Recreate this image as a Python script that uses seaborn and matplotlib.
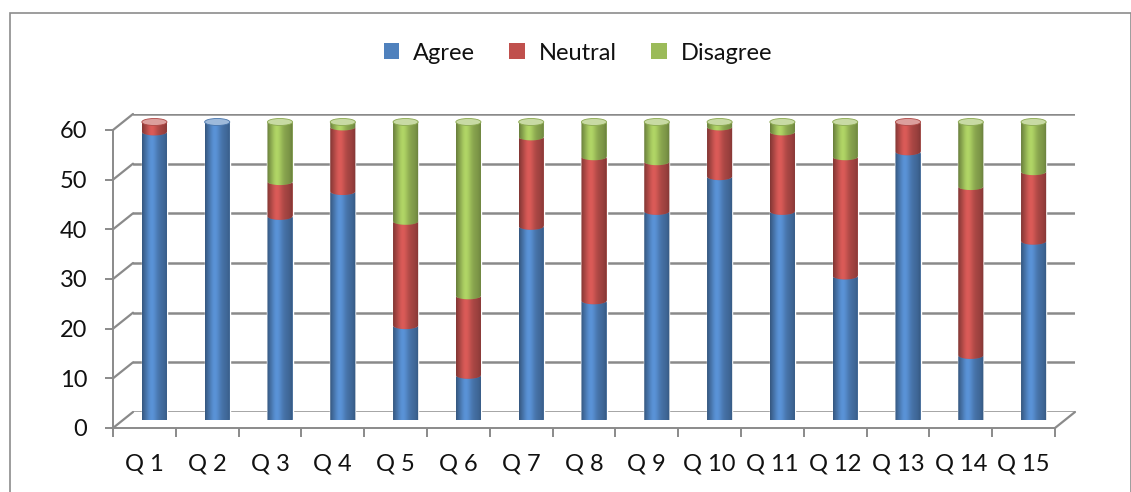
import numpy as np
import pandas as pd
import matplotlib
matplotlib.use("Agg")
import matplotlib.pyplot as plt
import seaborn as sns
from matplotlib.path import Path
from matplotlib.patches import PathPatch, Ellipse, Rectangle
from matplotlib.lines import Line2D
from matplotlib.colors import to_rgb

# ---------------- data ----------------
categories = ["Q 1", "Q 2", "Q 3", "Q 4", "Q 5", "Q 6", "Q 7", "Q 8",
              "Q 9", "Q 10", "Q 11", "Q 12", "Q 13", "Q 14", "Q 15"]
agree = [58, 60, 41, 46, 19, 9, 39, 24, 42, 49, 42, 29, 54, 13, 36]
neutral = [2, 0, 7, 13, 21, 16, 18, 29, 10, 10, 16, 24, 6, 34, 14]
disagree = [0, 0, 12, 1, 20, 35, 3, 7, 8, 1, 2, 7, 0, 13, 10]
series_names = ["Agree", "Neutral", "Disagree"]
y_ticks = [0, 10, 20, 30, 40, 50, 60]
colors = ["#4F81BD", "#C0504D", "#9BBB59"]

df = pd.DataFrame({"Question": categories, "Agree": agree,
                   "Neutral": neutral, "Disagree": disagree})

# ---------------- style ----------------
sns.set_theme(style="white")
plt.rcParams['font.family'] = ['Lato', 'DejaVu Sans']
FS = 17
GRID = "#8a8a8a"
TXT = "#111111"

W, H = 1131, 492
fig = plt.figure(figsize=(W / 100, H / 100), dpi=100)
fig.patch.set_facecolor("white")


def rect(l, t, r, b):
    return [l / W, 1 - b / H, (r - l) / W, (b - t) / H]


FL, FT, FR, FB = 113, 130, 1055, 428      # front plane
BDX, BDY = 20, 16                          # back wall offset
MDX, MDY = 10, 8                           # bar plane offset

ax_back = fig.add_axes(rect(FL + BDX, FT - BDY, FR + BDX, FB - BDY))
ax_front = fig.add_axes(rect(FL, FT, FR, FB))
ax_bar = fig.add_axes(rect(FL + MDX, FT - MDY, FR + MDX, FB - MDY))
ax_back.set_zorder(0)
ax_front.set_zorder(1)
ax_bar.set_zorder(2)

nC = len(categories)
xlim = (-0.5, nC - 0.5)
ylim = (0, 60)

for ax in (ax_back, ax_front, ax_bar):
    ax.set_xlim(*xlim)
    ax.set_ylim(*ylim)
    ax.patch.set_alpha(0)

# ---- back wall (gridlines) ----
ax_back.set_yticks(y_ticks)
ax_back.set_xticks([])
ax_back.yaxis.grid(True, color=GRID, lw=1.8)
ax_back.tick_params(axis="y", length=0, labelleft=False)
for s in ax_back.spines.values():
    s.set_visible(False)

# ---- front axes (ticks and labels) ----
for s in ["top", "right"]:
    ax_front.spines[s].set_visible(False)
for s in ["left", "bottom"]:
    ax_front.spines[s].set_color(GRID)
    ax_front.spines[s].set_linewidth(1.4)
ax_front.set_yticks(y_ticks)
ax_front.set_yticklabels([str(v) for v in y_ticks], fontsize=FS, color=TXT)
ax_front.set_xticks(range(nC))
ax_front.set_xticklabels(categories, fontsize=FS, color=TXT)
ax_front.set_xticks(np.arange(-0.5, nC, 1.0), minor=True)
ax_front.tick_params(axis="y", direction="out", length=6, width=1.4,
                     color=GRID, pad=12.5, left=True)
ax_front.tick_params(axis="x", which="major", length=0, pad=18, bottom=True)
ax_front.tick_params(axis="x", which="minor", direction="out", length=6.5,
                     width=1.4, color=GRID, bottom=True)
ax_front.grid(False)

# ---- side wall / floor diagonals ----
inv = fig.transFigure.inverted()


def diag(xv, yv):
    p0 = inv.transform(ax_front.transData.transform((xv, yv)))
    p1 = inv.transform(ax_back.transData.transform((xv, yv)))
    fig.add_artist(Line2D([p0[0], p1[0]], [p0[1], p1[1]],
                          transform=fig.transFigure, color=GRID, lw=1.6))


for v in y_ticks:
    diag(xlim[0], v)
diag(xlim[1], 0)

# ---- bars with seaborn ----
bottoms = np.zeros(nC)
for name, col in zip(series_names, colors):
    sns.barplot(data=df, x="Question", y=name, order=categories,
                bottom=bottoms.copy(), color=col, saturation=1, width=0.4,
                errorbar=None, ax=ax_bar)
    bottoms += df[name].to_numpy()
ax_bar.set_axis_off()

# cylinder shading
px_per_unit = (FB - FT) / (ylim[1] - ylim[0])
eh = 7.0 / px_per_unit          # ellipse height in data units
t = np.linspace(0, 1, 96)
shade = 0.84 + 0.30 * np.exp(-((t - 0.38) / 0.22) ** 2)
shade *= 1 - 0.22 * np.abs(2 * t - 1) ** 4

patches = list(ax_bar.patches)
segs = {}
for p in patches:
    h = p.get_height()
    if h <= 0:
        continue
    xc = p.get_x() + p.get_width() / 2
    segs.setdefault(round(xc, 3), []).append(p)

for xc, plist in segs.items():
    plist.sort(key=lambda q: q.get_y())
    for k, p in enumerate(plist):
        x0, w = p.get_x(), p.get_width()
        yb, yt = p.get_y(), p.get_y() + p.get_height()
        base = np.array(to_rgb(p.get_facecolor()))
        xs = np.linspace(x0, x0 + w, 60)
        arc = np.sqrt(np.clip(1 - ((xs - (x0 + w / 2)) / (w / 2)) ** 2, 0, 1))
        bot = yb - eh / 2 * arc
        is_top = (k == len(plist) - 1)
        top = yt + eh / 2 * arc if is_top else yt - eh / 2 * arc
        verts = np.vstack([np.column_stack([xs, bot]),
                           np.column_stack([xs[::-1], top[::-1]]),
                           [[xs[0], bot[0]]]])
        codes = [Path.MOVETO] + [Path.LINETO] * (len(verts) - 2) + [Path.CLOSEPOLY]
        pp = PathPatch(Path(verts, codes), facecolor="none", edgecolor="none",
                       transform=ax_bar.transData, clip_on=False)
        ax_bar.add_patch(pp)
        img = np.clip(base[None, :] * shade[:, None], 0, 1)[None, :, :]
        im = ax_bar.imshow(img, extent=(x0, x0 + w, yb - eh, yt + eh),
                           aspect="auto", interpolation="bilinear",
                           zorder=3 + k, origin="lower")
        im.set_clip_path(pp)
        im.set_clip_box(None)
        if is_top:
            cap = base * 0.55 + np.array([1, 1, 1]) * 0.45
            e = Ellipse((x0 + w / 2, yt), w, eh, facecolor=cap,
                        edgecolor=base * 0.9, lw=0.6, zorder=10, clip_on=False)
            ax_bar.add_patch(e)

ax_bar.set_xlim(*xlim)
ax_bar.set_ylim(*ylim)

# ---- legend ----
handles = [Rectangle((0, 0), 1, 1, facecolor=c, edgecolor="none") for c in colors]
leg = fig.legend(handles, series_names, loc="center",
                 bbox_to_anchor=(578 / W, 1 - 53 / H),
                 ncol=3, frameon=False, fontsize=FS, handlelength=0.65,
                 handleheight=0.65, handletextpad=0.6, columnspacing=1.45)
for txt in leg.get_texts():
    txt.set_color(TXT)

# ---- outer frame ----
fig.add_artist(Rectangle((10 / W, -0.05), (1130.5 - 10) / W, 1.05 - 13 / H,
                         transform=fig.transFigure, fill=False,
                         edgecolor="#8c8c8c", lw=1.2))

fig.savefig("out.png", dpi=100)
